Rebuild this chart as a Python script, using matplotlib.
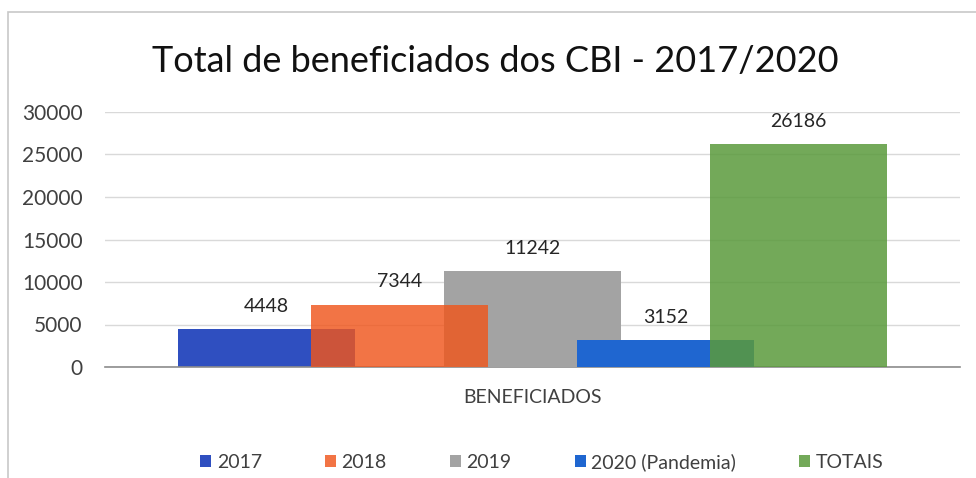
import matplotlib
matplotlib.use("Agg")
import matplotlib.pyplot as plt
from matplotlib.patches import Rectangle

categories = ["BENEFICIADOS"]
series = ["2017", "2018", "2019", "2020 (Pandemia)", "TOTAIS"]
values = [4448, 7344, 11242, 3152, 26186]
yticks = [0, 5000, 10000, 15000, 20000, 25000, 30000]
title = "Total de beneficiados dos CBI - 2017/2020"

colors = ["#2f4fc0", "#f0561c", "#a3a3a3", "#1f66d0", "#5a9a3c"]
alphas = [1.0, 0.82, 1.0, 1.0, 0.85]
zorders = [2, 4, 3, 3.5, 5]

plt.rcParams['font.family'] = ['Lato', 'DejaVu Sans']

fig = plt.figure(figsize=(9.76, 4.78), dpi=100)
fig.patches.append(Rectangle((8/976, -0.01), 1, 1.01 - 12/478, transform=fig.transFigure,
                             fill=False, edgecolor="#c8c8c8", linewidth=1.2))
ax = fig.add_axes([105/976, 1 - 367/478, 855/976, (367 - 112)/478])

step = 133/855
width = 177/855
for i, (s, v) in enumerate(zip(series, values)):
    x = (i - 2) * step
    ax.bar(x, v, width=width, color=colors[i], alpha=alphas[i], label=s,
           zorder=zorders[i])
    ax.text(x, v + 1700, f"{v}", ha="center", va="bottom", fontsize=14,
            color="#262626", zorder=10)

ax.set_xlim(-0.5, 0.5)
ax.set_ylim(0, 30000)
ax.set_yticks(yticks)
ax.set_yticklabels([str(t) for t in yticks], fontsize=15, color="#404040")
ax.set_xticks([0])
ax.set_xticklabels(categories, fontsize=14, color="#404040")
ax.tick_params(axis="y", length=0, pad=16)
ax.tick_params(axis="x", length=0, pad=16)
ax.grid(axis="y", color="#d9d9d9", linewidth=1)
ax.set_axisbelow(True)
for sp in ["left", "right", "top"]:
    ax.spines[sp].set_visible(False)
ax.spines["bottom"].set_color("#8c8c8c")
ax.spines["bottom"].set_linewidth(1.2)

fig.text(495/976, 1 - 62/478, title, ha="center", va="center", fontsize=26,
         color="#111111")

handles, labels = ax.get_legend_handles_labels()
leg = fig.legend(handles, labels, loc="center", bbox_to_anchor=(542/976, 1 - 462/478),
                 ncol=5, frameon=False, fontsize=14, handlelength=0.55,
                 handleheight=0.55, handletextpad=0.3, columnspacing=3.25)
for t in leg.get_texts():
    t.set_color("#404040")

fig.savefig("out.png", dpi=100)
